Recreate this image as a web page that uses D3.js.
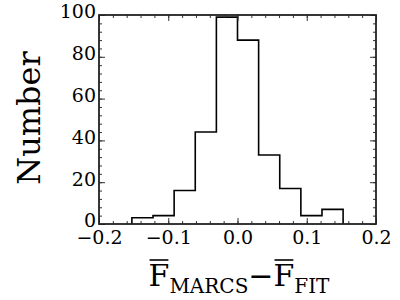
<!DOCTYPE html>
<html>
<head>
<meta charset="utf-8">
<script src="https://cdn.jsdelivr.net/npm/d3@7"></script>
<style>
  body { margin: 0; background: #fff; }
  text { font-family: "DejaVu Serif", serif; fill: #000; }
</style>
</head>
<body>
<div id="chart"></div>
<script>
// bin edges and counts
const binEdges = [-0.1525, -0.122, -0.0915, -0.061, -0.0305, 0, 0.0305, 0.061, 0.0915, 0.122, 0.1525]
const counts = [3, 4, 16, 44, 99, 88, 33, 17, 4, 7]
const xTicks = [-0.2, -0.1, 0.0, 0.1, 0.2]
const yTicks = [0, 20, 40, 60, 80, 100]

const width = 400, height = 300
const margin = { top: 15, right: 24, bottom: 76, left: 99 }
const w = width - margin.left - margin.right
const h = height - margin.top - margin.bottom

const svg = d3.select("#chart").append("svg")
    .attr("width", width)
    .attr("height", height)
const g = svg.append("g")
    .attr("transform", `translate(${margin.left},${margin.top})`)

const x = d3.scaleLinear().domain([-0.2, 0.2]).range([0, w])
const y = d3.scaleLinear().domain([0, 100]).range([h, 0])

// histogram outline as a step path
const pts = []
counts.forEach((c, i) => {
    pts.push([binEdges[i], c])
    pts.push([binEdges[i + 1], c])
})
const line = d3.line()
    .x(d => x(d[0]))
    .y(d => y(d[1]))
const outline = [[binEdges[0], 0], ...pts, [binEdges[binEdges.length - 1], 0]]
g.append("path")
    .attr("d", line(outline))
    .attr("fill", "none")
    .attr("stroke", "#000")
    .attr("stroke-width", 1.6)

// inward ticks on all four sides
const minorX = d3.range(-0.2, 0.2001, 0.02)
const minorY = d3.range(0, 100.01, 4)
function tickAxis(axis, scale, vals, size, transform) {
    const a = g.append("g")
        .attr("transform", transform)
        .call(axis(scale).tickValues(vals).tickSize(size).tickFormat(""))
    a.select(".domain").remove()
    a.selectAll("line").attr("stroke", "#333").attr("stroke-width", 1)
}
tickAxis(d3.axisBottom, x, minorX, -3, `translate(0,${h})`)
tickAxis(d3.axisBottom, x, xTicks, -6, `translate(0,${h})`)
tickAxis(d3.axisTop, x, minorX, -3, "translate(0,0)")
tickAxis(d3.axisTop, x, xTicks, -6, "translate(0,0)")
tickAxis(d3.axisLeft, y, minorY, -3, "translate(0,0)")
tickAxis(d3.axisLeft, y, yTicks, -6, "translate(0,0)")
tickAxis(d3.axisRight, y, minorY, -3, `translate(${w},0)`)
tickAxis(d3.axisRight, y, yTicks, -6, `translate(${w},0)`)

// frame
g.append("rect")
    .attr("width", w).attr("height", h)
    .attr("fill", "none")
    .attr("stroke", "#222")
    .attr("stroke-width", 1.8)

// tick labels
const fmtX = d => d3.format(".1f")(d).replace("-", "\u2212")
const xl = g.append("g")
    .attr("transform", `translate(0,${h})`)
    .attr("font-family", "DejaVu Serif")
    .call(d3.axisBottom(x).tickValues(xTicks).tickSize(0).tickPadding(7).tickFormat(fmtX))
xl.select(".domain").remove()
xl.selectAll("text").style("font-size", "19px").style("font-family", "DejaVu Serif")

const yl = g.append("g")
    .attr("font-family", "DejaVu Serif")
    .call(d3.axisLeft(y).tickValues(yTicks).tickSize(0).tickPadding(3).tickFormat(d3.format("d")))
yl.select(".domain").remove()
yl.selectAll("text").style("font-size", "19px").style("font-family", "DejaVu Serif")
    .attr("dy", "0.15em")

// axis titles
svg.append("text")
    .attr("transform", `translate(40,118) rotate(-90)`)
    .attr("text-anchor", "middle")
    .style("font-size", "32px")
    .text("Number")

const xt = svg.append("text")
    .attr("x", 239)
    .attr("y", 286)
    .attr("text-anchor", "middle")
    .style("font-size", "30px")
xt.append("tspan").text("F")
xt.append("tspan").attr("dy", 7).style("font-size", "20px").text("MARCS")
xt.append("tspan").attr("dy", -7).text("\u2212F")
xt.append("tspan").attr("dy", 7).style("font-size", "20px").text("FIT")

// overlines above the two F
const tsp = xt.selectAll("tspan").nodes()
const f1 = tsp[0].getExtentOfChar(0)
const f2 = tsp[2].getExtentOfChar(1)
;[f1, f2].forEach(r => {
    svg.append("line")
        .attr("x1", r.x + 1).attr("x2", r.x + r.width - 1)
        .attr("y1", 260).attr("y2", 260)
        .attr("stroke", "#000").attr("stroke-width", 1.6)
})
</script>
</body>
</html>
